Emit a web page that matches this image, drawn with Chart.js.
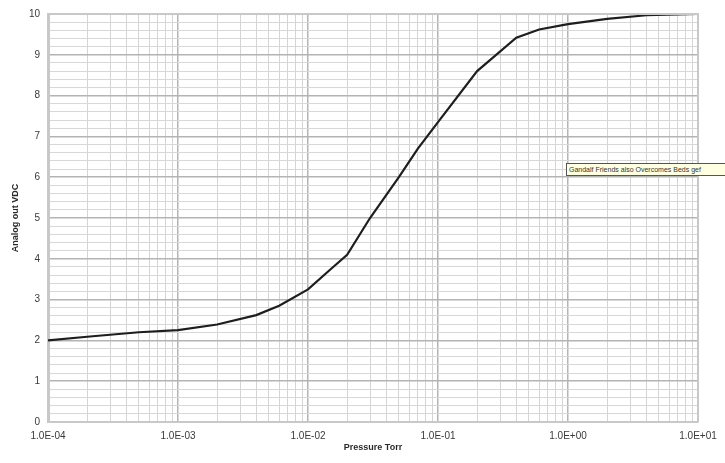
<!DOCTYPE html>
<html>
<head>
<meta charset="utf-8">
<script src="https://cdn.jsdelivr.net/npm/chart.js@4.4.1/dist/chart.umd.min.js"></script>
<style>
  html,body{margin:0;padding:0;background:#fff;overflow:hidden;}
  #wrap{position:relative;width:725px;height:463px;}
  #tip{position:absolute;left:566px;top:163px;height:11px;width:170px;background:#ffffe1;border:1px solid #555;
       font:7px "Liberation Sans",Arial,sans-serif;color:#333;line-height:11px;padding-left:2px;white-space:nowrap;overflow:hidden;}
</style>
</head>
<body>
<div id="wrap">
<canvas id="c" width="725" height="463"></canvas>
<div id="tip">Gandalf Friends also Overcomes Beds gef</div>
</div>
<script>
// Data
const pressureTorr = [1e-4, 2e-4, 5e-4, 1e-3, 2e-3, 4e-3, 6e-3, 1e-2, 1.5e-2, 2e-2, 3e-2, 5e-2, 7e-2, 1e-1, 2e-1, 4e-1, 6e-1, 1e0, 2e0, 4e0, 1e1];
const analogOutVDC = [2.0, 2.09, 2.2, 2.25, 2.39, 2.62, 2.85, 3.25, 3.75, 4.1, 5.0, 6.0, 6.7, 7.35, 8.6, 9.42, 9.62, 9.75, 9.88, 9.97, 10.0];
const xDecades = [1e-4, 1e-3, 1e-2, 1e-1, 1e0, 1e1];
const xTickLabels = ['1.0E-04', '1.0E-03', '1.0E-02', '1.0E-01', '1.0E+00', '1.0E+01'];
const yTickLabels = ['0', '1', '2', '3', '4', '5', '6', '7', '8', '9', '10'];
const xTitle = 'Pressure Torr';
const yTitle = 'Analog out VDC';

const FONT = '"Liberation Sans", Arial, sans-serif';

function isDecade(v) {
  const l = Math.log10(v);
  return Math.abs(l - Math.round(l)) < 1e-6;
}
function isInt(v) { return Math.abs(v - Math.round(v)) < 1e-6; }

new Chart(document.getElementById('c'), {
  type: 'line',
  data: {
    datasets: [{
      data: pressureTorr.map((p, i) => ({ x: p, y: analogOutVDC[i] })),
      borderColor: '#1e1e1e',
      borderWidth: 2.2,
      pointRadius: 0,
      tension: 0,
      fill: false
    }]
  },
  options: {
    responsive: false,
    animation: false,
    events: [],
    layout: { padding: { left: 10, top: 12, right: 27, bottom: 10 } },
    plugins: { legend: { display: false }, tooltip: { enabled: false } },
    scales: {
      x: {
        type: 'logarithmic',
        min: xDecades[0],
        max: xDecades[xDecades.length - 1],
        afterBuildTicks: (s) => {
          const t = [];
          for (let i = 0; i < xDecades.length - 1; i++) {
            for (let m = 1; m <= 9; m++) t.push({ value: m * xDecades[i] });
          }
          t.push({ value: xDecades[xDecades.length - 1] });
          s.ticks = t;
        },
        afterFit: (s) => { s.height = 31; },
        ticks: {
          autoSkip: false,
          maxRotation: 0,
          padding: 8,
          color: '#3a3a3a',
          font: { family: FONT, size: 10 },
          callback: (v) => {
            if (!isDecade(v)) return '';
            const idx = xDecades.findIndex(d => Math.abs(Math.log10(d) - Math.log10(v)) < 1e-6);
            return idx >= 0 ? xTickLabels[idx] : '';
          }
        },
        grid: {
          color: (ctx) => (ctx.tick && isDecade(ctx.tick.value)) ? '#b4b4b4' : '#d4d4d4',
          lineWidth: (ctx) => (ctx.tick && isDecade(ctx.tick.value)) ? 1.5 : 1,
          drawTicks: false
        },
        border: { color: '#c8c8c8', width: 2 },
        title: {
          display: true,
          text: xTitle,
          color: '#2a2a2a',
          font: { family: FONT, size: 9, weight: 'bold' },
          padding: { top: 1, bottom: 0 }
        }
      },
      y: {
        type: 'linear',
        min: 0,
        max: 10,
        afterBuildTicks: (s) => {
          const t = [];
          for (let i = 0; i <= 50; i++) t.push({ value: i / 5 });
          s.ticks = t;
        },
        afterFit: (s) => { s.width = 38; },
        ticks: {
          autoSkip: false,
          padding: 8,
          color: '#3a3a3a',
          font: { family: FONT, size: 10 },
          callback: (v) => isInt(v) ? yTickLabels[Math.round(v)] : ''
        },
        grid: {
          color: (ctx) => (ctx.tick && isInt(ctx.tick.value)) ? '#b4b4b4' : '#d8d8d8',
          lineWidth: (ctx) => (ctx.tick && isInt(ctx.tick.value)) ? 1.5 : 1,
          drawTicks: false
        },
        border: { color: '#c8c8c8', width: 3 },
        title: {
          display: true,
          text: yTitle,
          color: '#2a2a2a',
          font: { family: FONT, size: 9, weight: 'bold' },
          padding: { top: 0, bottom: 2 }
        }
      }
    }
  },
  plugins: [{
    id: 'frame',
    afterDraw(chart) {
      const { ctx, chartArea: a } = chart;
      ctx.save();
      ctx.strokeStyle = '#c8c8c8';
      ctx.lineWidth = 2;
      ctx.beginPath();
      ctx.moveTo(a.left, a.top);
      ctx.lineTo(a.right, a.top);
      ctx.lineTo(a.right, a.bottom);
      ctx.stroke();
      ctx.restore();
    }
  }]
});
</script>
</body>
</html>
